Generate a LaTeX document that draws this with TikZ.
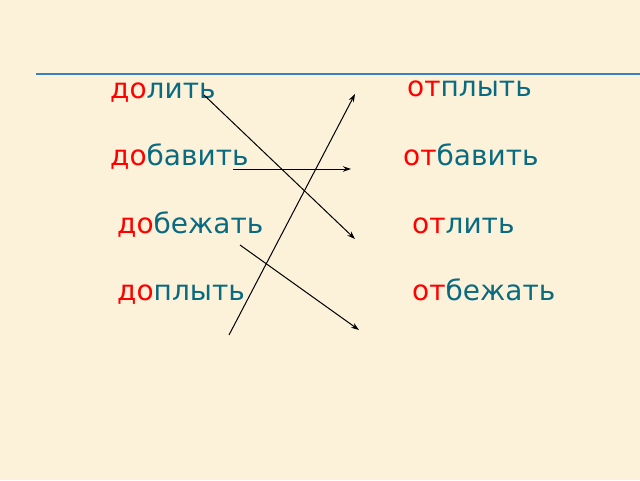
\documentclass[tikz,border=0pt]{standalone}
\usepackage{xcolor}
\usepackage{fontspec}
\setmainfont{DejaVu Sans}
\usetikzlibrary{arrows.meta}

\definecolor{fon}{HTML}{FCF2DA}
\definecolor{koren}{HTML}{0A6A80}
\definecolor{liniya}{HTML}{3A80C6}
\newcommand{\pref}[1]{\textcolor{red}{#1}}

\begin{document}
\begin{tikzpicture}[
		x=1pt, y=-1pt,
		word/.style={
			inner sep=0pt, anchor=base west, text=koren,
			font=\fontsize{28}{32}\selectfont
		},
		strelka/.style={draw=black, line width=1pt, -{Stealth[length=8pt, width=5.5pt]}}
		]
		% fon
		\fill[fon] (0,0) rectangle (640,480);
		\useasboundingbox (0,0) rectangle (640,480);
		
		% verhnyaya liniya
		\coordinate (lA) at (36,73.5);
		\coordinate (lB) at (640,73.5);
		\draw[liniya, line width=2pt] (lA) -- (lB);
		
		% levyi stolbec
		\node[word] (dolit) at (110,98) {\pref{до}лить};
		\node[word] (dobavit) at (110,165) {\pref{до}бавить};
		\node[word] (dobezhat) at (117,233) {\pref{до}бежать};
		\node[word] (doplyt) at (117,300) {\pref{до}плыть};
		
		% pravyi stolbec
		\node[word] (otplyt) at (407,96) {\pref{от}плыть};
		\node[word] (otbavit) at (403,165) {\pref{от}бавить};
		\node[word] (otlit) at (412,233) {\pref{от}лить};
		\node[word] (otbezhat) at (412,300) {\pref{от}бежать};
		
		% koncy strelok
		\coordinate (s1) at (204,95);   \coordinate (e1) at (355,239);
		\coordinate (s2) at (233,169);  \coordinate (e2) at (351,169);
		\coordinate (s3) at (229,335);  \coordinate (e3) at (355,94);
		\coordinate (s4) at (240,245);  \coordinate (e4) at (359,330);
		
		\draw[strelka] (s1) -- (e1);
		\draw[strelka] (s2) -- (e2);
		\draw[strelka] (s3) -- (e3);
		\draw[strelka] (s4) -- (e4);
		
	\end{tikzpicture}
\end{document}
